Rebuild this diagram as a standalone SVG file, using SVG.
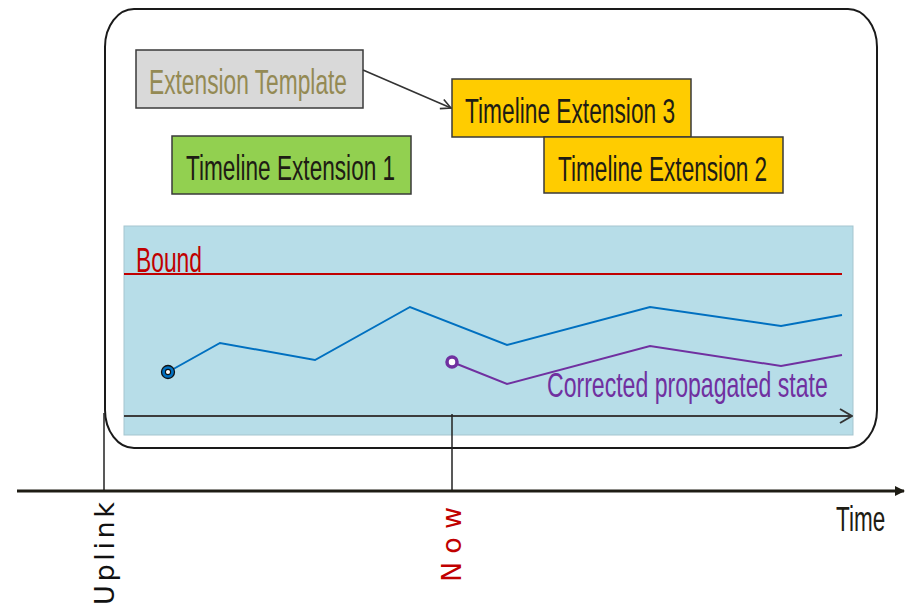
<svg xmlns="http://www.w3.org/2000/svg" width="908" height="608" viewBox="0 0 908 608">
<style>
.box{stroke:#3a3a3a;stroke-width:1.5}
.lbl{font-family:"Liberation Sans",Arial,sans-serif;font-size:35px}
.rot{font-family:"DejaVu Sans",Verdana,sans-serif;font-size:27px}
</style>
<defs>
<marker id="open" viewBox="0 0 12 12" refX="11" refY="6" markerWidth="12" markerHeight="12" markerUnits="userSpaceOnUse" orient="auto">
<path d="M1,1 L11,6 L1,11" fill="none" stroke="#333" stroke-width="1.6"/>
</marker>
<marker id="open2" viewBox="0 0 14 16" refX="13" refY="8" markerWidth="14" markerHeight="16" markerUnits="userSpaceOnUse" orient="auto">
<path d="M1,1 L13,8 L1,15" fill="none" stroke="#333" stroke-width="2"/>
</marker>
<marker id="solid" viewBox="0 0 10 10" refX="9" refY="5" markerWidth="10" markerHeight="10" markerUnits="userSpaceOnUse" orient="auto">
<path d="M0,0 L10,5 L0,10 Z" fill="#1e1c14"/>
</marker>
</defs>
<rect width="908" height="608" fill="#ffffff"/>

<g id="container">
<rect x="105" y="9" width="772" height="439" rx="29" ry="38" fill="#ffffff" stroke="#1a1a1a" stroke-width="2"/>
</g>

<g id="panel">
<rect x="124" y="226" width="729" height="209" fill="#b7dde8" stroke="#a5c5cf" stroke-width="1"/>
<line x1="124" y1="274" x2="842" y2="274" stroke="#c00000" stroke-width="2"/>
<text class="lbl" transform="translate(136,272) scale(0.652,1)" fill="#c00000">Bound</text>
<polyline points="168,372 220,343 315,360 410,307 507,345 650,307 781,326 842,315" fill="none" stroke="#0070c0" stroke-width="2"/>
<polyline points="452,362 507,384 650,346 781,366 842,355" fill="none" stroke="#7030a0" stroke-width="2"/>
<circle cx="168" cy="372" r="6.5" fill="#0070c0" stroke="#111" stroke-width="1.3"/>
<circle cx="168" cy="372" r="2.6" fill="#ffffff" stroke="#111" stroke-width="1.1"/>
<circle cx="452" cy="362" r="5" fill="#ffffff" stroke="#7030a0" stroke-width="3.5"/>
<text class="lbl" transform="translate(547,397) scale(0.6595,1)" fill="#7030a0">Corrected propagated state</text>
</g>

<g id="template">
<rect class="box" x="136" y="50" width="227" height="58" fill="#d9d9d9"/>
<text class="lbl" transform="translate(149,94) scale(0.650,1)" fill="#948a54">Extension Template</text>
</g>
<g id="ext1">
<rect class="box" x="172" y="136" width="239" height="58" fill="#92d050"/>
<text class="lbl" transform="translate(186,180) scale(0.6465,1)" fill="#1e1c14">Timeline Extension 1</text>
</g>
<g id="ext3">
<rect class="box" x="452" y="79" width="239" height="58" fill="#ffcc00"/>
<text class="lbl" transform="translate(465,123) scale(0.6496,1)" fill="#1e1c14">Timeline Extension 3</text>
</g>
<g id="ext2">
<rect class="box" x="544" y="137" width="239" height="56" fill="#ffcc00"/>
<text class="lbl" transform="translate(558,181) scale(0.6465,1)" fill="#1e1c14">Timeline Extension 2</text>
</g>

<g id="connectors">
<line x1="363" y1="70" x2="451" y2="108" stroke="#333" stroke-width="1.6" marker-end="url(#open)"/>
<line x1="124" y1="416" x2="852" y2="416" stroke="#3c3c3c" stroke-width="2" marker-end="url(#open2)"/>
<line x1="104" y1="413" x2="104" y2="491" stroke="#222" stroke-width="1.5"/>
<line x1="452" y1="414" x2="452" y2="491" stroke="#222" stroke-width="1.5"/>
<line x1="17" y1="491" x2="904" y2="491" stroke="#1e1c14" stroke-width="3" marker-end="url(#solid)"/>
</g>

<g id="axis-labels">
<text class="lbl" transform="translate(836,531) scale(0.643,1)" fill="#1e1c14">Time</text>
<text class="rot" transform="translate(114,605) rotate(-90)" fill="#111" textLength="103" lengthAdjust="spacing">Uplink</text>
<text class="rot" transform="translate(461,582) rotate(-90)" fill="#c00000" textLength="75" lengthAdjust="spacing">Now</text>
</g>
</svg>
